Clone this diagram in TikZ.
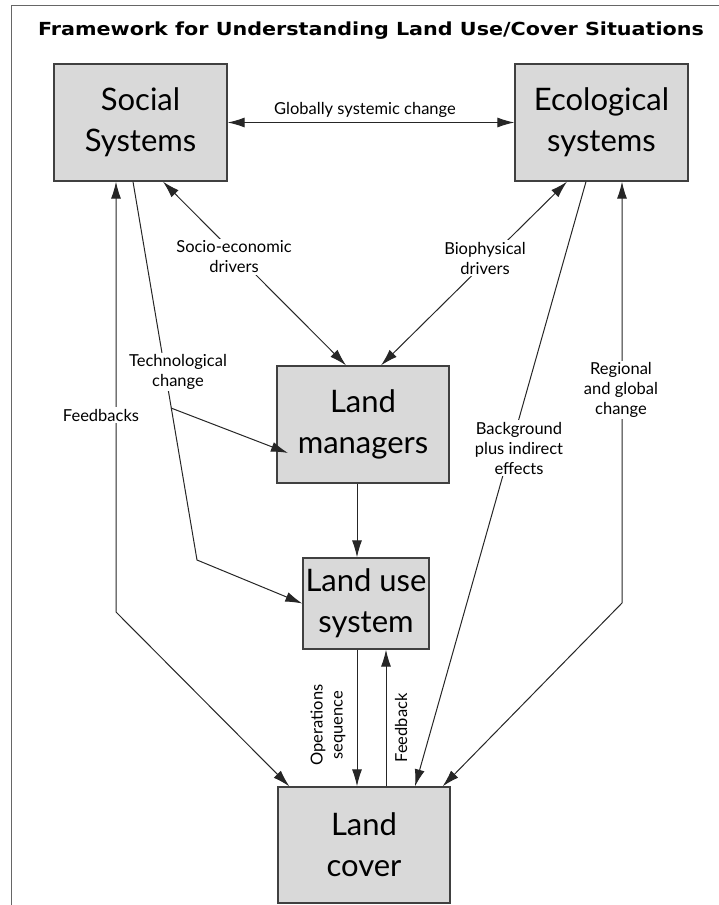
\documentclass[tikz,border=0pt]{standalone}
\usepackage{fontspec}
\setmainfont{Lato}
\newfontfamily\titlefont{DejaVu Sans}
\usetikzlibrary{arrows.meta}

\begin{document}
\begin{tikzpicture}[x=1pt,y=-1pt,
    >={Latex[length=17pt,width=10pt]},
    box/.style={draw=black!75,line width=1.3pt,fill=gray!30,align=center,inner sep=0pt,
        font=\fontsize{31}{41}\selectfont},
    conn/.style={draw=black!85,line width=1pt},
    lbl/.style={fill=white,inner sep=1.5pt,align=center,font=\fontsize{16.5}{20}\selectfont}]
    \useasboundingbox (0,0) rectangle (719,905);
    \path[draw=black!60,line width=1pt] (719,5) -- (11,5) -- (11,905);
    \path (371,31) node(title) {\scalebox{1.15}[1]{\titlefont\bfseries\fontsize{18}{20}\selectfont Framework for Understanding Land Use/Cover Situations}};
    \path (140.5,122.5) node(social)[box,minimum width=173pt,minimum height=117pt] {Social\\Systems};
    \path (601.5,122.5) node(eco)[box,minimum width=173pt,minimum height=117pt] {Ecological\\systems};
    \path (363,424.5) node(managers)[box,minimum width=172pt,minimum height=117pt] {Land\\managers};
    \path (366,603.5) node(landuse)[box,minimum width=126pt,minimum height=91pt] {Land use\\system};
    \path (364,845) node(cover)[box,minimum width=172pt,minimum height=116pt] {Land\\cover};
    % bends
    \coordinate (techfork) at (171,408);
    \coordinate (techbend) at (197,560);
    \coordinate (mgrin) at (288,453);
    \coordinate (fbbend) at (116,612);
    \coordinate (regbend) at (622,603);
    % connectors
    \path (social.east) edge[conn,<->] (eco.west);
    \path ([xshift=22.5pt]social.south) edge[conn,<->] ([xshift=-17pt]managers.north);
    \path ([xshift=-34.5pt]eco.south) edge[conn,<->] ([xshift=18pt]managers.north);
    \path[conn,->] ([xshift=-7.5pt]social.south) -- (techbend) -- (landuse.west);
    \path (techfork) edge[conn,->] (mgrin);
    \path[conn,<->] ([xshift=-24.5pt]social.south) -- (fbbend) -- ([xshift=12pt]cover.north west);
    \path[conn,<->] ([xshift=20.5pt]eco.south) -- (regbend) -- ([xshift=-8pt]cover.north east);
    \path ([xshift=-15.5pt]eco.south) edge[conn,->] ([xshift=51pt]cover.north);
    \path ([xshift=-6pt]managers.south) edge[conn,->] ([xshift=-9pt]landuse.north);
    \path ([xshift=-9pt]landuse.south) edge[conn,->] ([xshift=-7pt]cover.north);
    \path ([xshift=22pt]cover.north) edge[conn,->] ([xshift=20pt]landuse.south);
    % labels
    \path (365,110) node(global)[lbl,fill=none] {Globally systemic change};
    \path (234,257) node(socio)[lbl] {Socio-economic\\drivers};
    \path (485,258) node(bio)[lbl] {Biophysical\\drivers};
    \path (178,372) node(tech)[lbl] {Technological\\change};
    \path (101,415) node(fbs)[lbl] {Feedbacks};
    \path (519,448) node(backgr)[lbl] {Background\\plus indirect\\effects};
    \path (621,390) node(region)[lbl] {Regional\\and global\\change};
    \path (328,725) node(ops)[lbl,rotate=90] {Operations\\sequence};
    \path (401,728) node(fb)[lbl,rotate=90] {Feedback};
\end{tikzpicture}
\end{document}
